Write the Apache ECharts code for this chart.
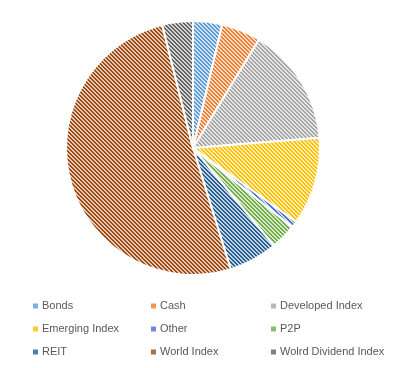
<!DOCTYPE html>
<html><head><meta charset="utf-8">
<script src="https://cdn.jsdelivr.net/npm/echarts@6/dist/echarts.min.js"></script>
<style>html,body{margin:0;padding:0;background:#fff}#c{width:404px;height:368px}</style>
</head><body><div id="c"></div>
<script>
const categories = ['Bonds','Cash','Developed Index','Emerging Index','Other','P2P','REIT','World Index','Wolrd Dividend Index'];
const values = [3.7, 5.0, 15.0, 11.2, 0.8, 3.3, 6.2, 50.9, 3.9];
const colors = ['#5B9BD5','#ED7D31','#A5A5A5','#FFC000','#4472C4','#70AD47','#255E91','#9E480E','#636363'];

function tint(hex, t){
  const n=parseInt(hex.slice(1),16);
  const r=(n>>16)&255,g=(n>>8)&255,b=n&255;
  const f=v=>Math.round(v+(255-v)*t);
  return 'rgb('+f(r)+','+f(g)+','+f(b)+')';
}
function pattern(hex){
  const P=4;
  const c=document.createElement('canvas');
  c.width=P;c.height=P;
  const ctx=c.getContext('2d');
  ctx.fillStyle=tint(hex,0.72);ctx.fillRect(0,0,P,P);
  ctx.fillStyle=hex;
  for(let y=0;y<P;y++)for(let x=0;x<P;x++){
    const m=((x-y)%P+P)%P;
    if(m===0||m===1)ctx.fillRect(x,y,1,1);
  }
  return {image:c,repeat:'repeat'};
}
const data = categories.map((n,i)=>({name:n,value:values[i],itemStyle:{color:pattern(colors[i])}}));
const chart=echarts.init(document.getElementById('c'),null,{renderer:'canvas'});
const cols=[[0,3,6],[1,4,7],[2,5,8]];
const lefts=[33,151,271];
const legends=cols.map((idx,k)=>({
  orient:'vertical',left:lefts[k],top:299,padding:0,
  data:idx.map(i=>({name:categories[i],itemStyle:{color:tint(colors[i],0.2),borderWidth:0}})),
  itemWidth:5,itemHeight:5,itemGap:9,
  icon:'rect',
  itemStyle:{borderWidth:0},
  textStyle:{fontFamily:'Liberation Sans',fontSize:11,color:'#595959',lineHeight:14,padding:[0,0,0,-1]},
  selectedMode:false
}));
chart.setOption({
  animation:false,
  legend:legends,
  series:[{
    type:'pie',center:[193,148],radius:[0,127],startAngle:90,clockwise:true,
    label:{show:false},labelLine:{show:false},
    itemStyle:{borderColor:'#fff',borderWidth:2},
    emphasis:{disabled:true},
    data:data
  }]
});
</script></body></html>
